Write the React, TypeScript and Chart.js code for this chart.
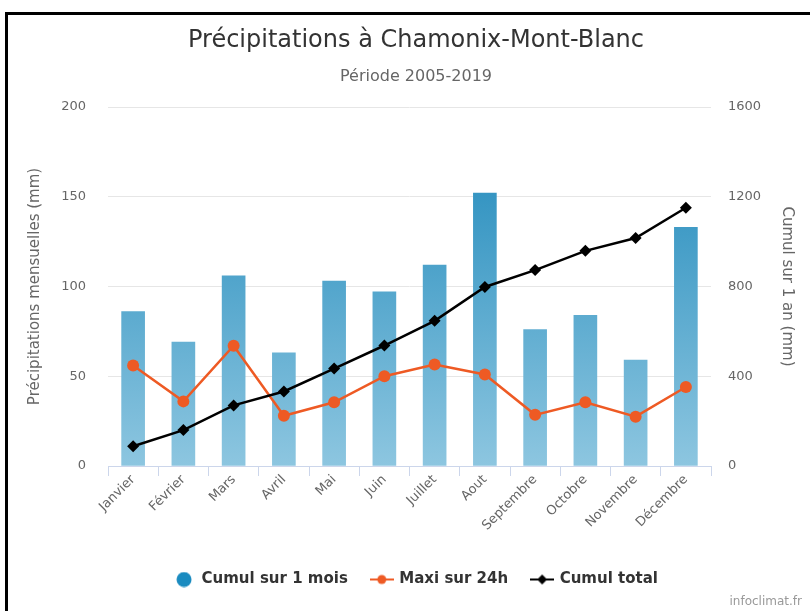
import React, { useEffect, useRef } from 'react';
import { Chart, registerables } from 'chart.js';

Chart.register(...registerables);

const months = ['Janvier', 'Février', 'Mars', 'Avril', 'Mai', 'Juin', 'Juillet', 'Aout', 'Septembre', 'Octobre', 'Novembre', 'Décembre'];
const monthlyRain = [86, 69, 106, 63, 103, 97, 112, 152, 76, 84, 59, 133];
const max24h = [56, 36, 67, 28, 35.5, 50, 56.5, 51, 28.5, 35.5, 27.5, 44];
const yearCumul = [88, 160, 270, 332, 434, 537, 647, 798, 873, 959, 1016, 1151];
const leftTicks = [0, 50, 100, 150, 200];
const rightTicks = [0, 400, 800, 1200, 1600];

const titleText = 'Précipitations à Chamonix-Mont-Blanc';
const subtitleText = 'Période 2005-2019';
const leftAxisTitle = 'Précipitations mensuelles (mm)';
const rightAxisTitle = 'Cumul sur 1 an (mm)';
const seriesNames = ['Cumul sur 1 mois', 'Maxi sur 24h', 'Cumul total'];

const FONT = 'DejaVu Sans';
const ORANGE = '#ee5a24';
const BLUE = '#1a8bc0';

function makeSymbol(kind: string, color: string): HTMLCanvasElement {
  const c = document.createElement('canvas');
  if (kind === 'circle') {
    c.width = 16;
    c.height = 16;
    const x = c.getContext('2d')!;
    x.fillStyle = color;
    x.beginPath();
    x.arc(8, 8, 7.5, 0, Math.PI * 2);
    x.fill();
    return c;
  }
  c.width = 24;
  c.height = 12;
  const x = c.getContext('2d')!;
  x.strokeStyle = color;
  x.lineWidth = 2;
  x.beginPath();
  x.moveTo(0, 6);
  x.lineTo(24, 6);
  x.stroke();
  x.fillStyle = color;
  x.beginPath();
  if (kind === 'dot') {
    x.arc(12, 6, 4.5, 0, Math.PI * 2);
  } else {
    x.moveTo(12, 1);
    x.lineTo(17, 6);
    x.lineTo(12, 11);
    x.lineTo(7, 6);
    x.closePath();
  }
  x.fill();
  return c;
}

export default function App() {
  const ref = useRef<HTMLCanvasElement | null>(null);

  useEffect(() => {
    document.body.style.margin = '0';
    if (!ref.current) return;
    Chart.defaults.font.family = FONT;
    const symbols = [makeSymbol('circle', BLUE), makeSymbol('dot', ORANGE), makeSymbol('diamond', '#000')];

    const barGradient = (ctx: any) => {
      const chart = ctx.chart;
      const area = chart.chartArea;
      if (!area) return '#5aaad0';
      const g = chart.ctx.createLinearGradient(0, area.bottom, 0, area.top);
      g.addColorStop(0, '#8dc6e0');
      g.addColorStop(1, '#1a86b9');
      return g;
    };

    const chart = new Chart(ref.current, {
      type: 'bar',
      data: {
        labels: months,
        datasets: [
          {
            type: 'bar',
            label: seriesNames[0],
            data: monthlyRain,
            backgroundColor: barGradient,
            borderWidth: 0,
            barThickness: 23,
            yAxisID: 'y',
            order: 3,
          },
          {
            type: 'line',
            label: seriesNames[1],
            data: max24h,
            borderColor: ORANGE,
            backgroundColor: ORANGE,
            borderWidth: 2.5,
            pointRadius: 6,
            pointBorderWidth: 0,
            pointStyle: 'circle',
            yAxisID: 'y',
            order: 2,
          },
          {
            type: 'line',
            label: seriesNames[2],
            data: yearCumul,
            borderColor: '#000',
            backgroundColor: '#000',
            borderWidth: 2.5,
            pointRadius: 6,
            pointBorderWidth: 0,
            pointStyle: 'rectRot',
            yAxisID: 'y1',
            order: 1,
          },
        ],
      } as any,
      options: {
        responsive: false,
        animation: false,
        events: [],
        layout: { padding: { left: 32, right: 10, top: 14, bottom: 14 } },
        plugins: {
          title: {
            display: true,
            text: titleText,
            color: '#333',
            font: { family: FONT, size: 24, weight: 'normal' },
            padding: { top: 12, bottom: 10 },
          },
          subtitle: {
            display: true,
            text: subtitleText,
            color: '#666',
            font: { family: FONT, size: 16, weight: 'normal' },
            padding: { top: 2, bottom: 21 },
          },
          legend: {
            display: true,
            position: 'bottom',
            labels: {
              usePointStyle: true,
              pointStyleWidth: 20,
              padding: 24,
              color: '#333',
              font: { family: FONT, size: 15, weight: 'bold' },
              generateLabels: (ch: any) => {
                const items = (Chart.defaults.plugins.legend.labels as any).generateLabels(ch);
                items.sort((a: any, b: any) => a.datasetIndex - b.datasetIndex);
                items.forEach((it: any) => {
                  it.pointStyle = symbols[it.datasetIndex];
                  it.fontColor = '#333';
                });
                return items;
              },
            },
          },
          tooltip: { enabled: false },
        },
        scales: {
          x: {
            offset: true,
            grid: { display: true, drawOnChartArea: false, drawTicks: true, tickLength: 10, color: '#ccd6eb', offset: true },
            border: { display: true, color: '#ccd6eb', width: 1 },
            ticks: { color: '#666', font: { family: FONT, size: 13 }, minRotation: 45, maxRotation: 45, padding: -4, autoSkip: false },
            afterFit: (s: any) => { s.height = 82; },
          },
          y: {
            position: 'left',
            min: leftTicks[0],
            max: leftTicks[leftTicks.length - 1],
            afterBuildTicks: (s: any) => { s.ticks = leftTicks.map((v) => ({ value: v })); },
            grid: { color: '#e6e6e6', drawTicks: false },
            border: { display: false },
            ticks: { color: '#666', font: { family: FONT, size: 13 }, padding: 22, callback: (v: any) => String(v) },
            title: { display: true, text: leftAxisTitle, color: '#666', font: { family: FONT, size: 15 }, padding: { top: -6, bottom: 0 } },
            afterFit: (s: any) => { s.width = 76; },
          },
          y1: {
            position: 'right',
            min: rightTicks[0],
            max: rightTicks[rightTicks.length - 1],
            afterBuildTicks: (s: any) => { s.ticks = rightTicks.map((v) => ({ value: v })); },
            grid: { drawOnChartArea: false, drawTicks: false },
            border: { display: false },
            ticks: { color: '#666', font: { family: FONT, size: 13 }, padding: 17, callback: (v: any) => String(v) },
            title: { display: true, text: rightAxisTitle, color: '#666', font: { family: FONT, size: 15 }, padding: { top: 4, bottom: 0 } },
            afterFit: (s: any) => { s.width = 89; },
          },
        },
      } as any,
    });
    return () => chart.destroy();
  }, []);

  return (
    <div style={{ position: 'relative', width: 810, height: 611, overflow: 'hidden', background: '#fff' }}>
      <canvas ref={ref} width={810} height={611} style={{ position: 'absolute', left: 0, top: 0, width: 810, height: 611 }} />
      <div style={{ position: 'absolute', left: 5, top: 12, width: 900, height: 700, border: '3px solid #000', boxSizing: 'border-box', pointerEvents: 'none' }} />
      <div style={{ position: 'absolute', right: 8, top: 594, fontFamily: FONT, fontSize: 12, color: '#999' }}>infoclimat.fr</div>
    </div>
  );
}
